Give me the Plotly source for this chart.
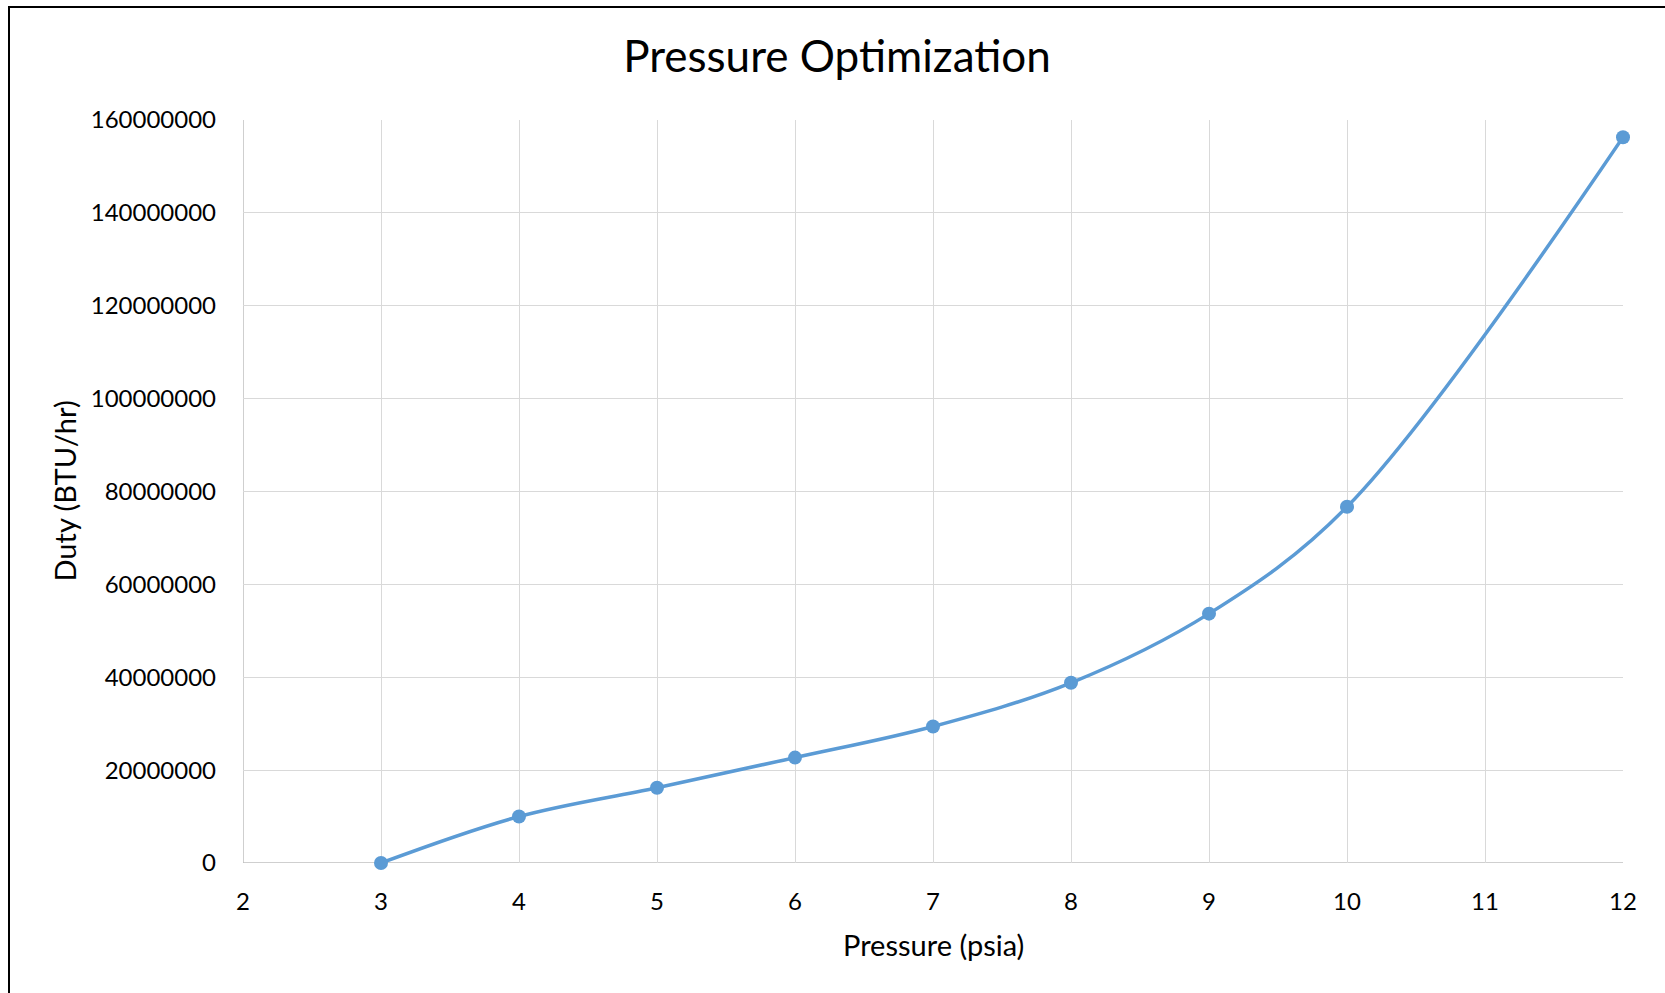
import plotly.graph_objects as go

# Evaporator pressure sweep: duty at each operating pressure
pressure_psia = [3, 4, 5, 6, 7, 8, 9, 10, 12]
duty_btu_hr = [0, 10.0e6, 16.2e6, 22.7e6, 29.4e6, 38.8e6, 53.7e6, 76.7e6, 156.3e6]

x_ticks = [2, 3, 4, 5, 6, 7, 8, 9, 10, 11, 12]
y_ticks = [0, 20000000, 40000000, 60000000, 80000000, 100000000, 120000000, 140000000, 160000000]

FONT = "Lato, Calibri, Carlito, sans-serif"
LINE_BLUE = "#5B9BD5"
GRID = "#D9D9D9"
AXIS = "#BFBFBF"

W, H = 1665, 993
L, R, T, B = 243, 42, 120, 130

fig = go.Figure()
fig.add_trace(go.Scatter(
    x=pressure_psia,
    y=duty_btu_hr,
    mode="lines+markers",
    line=dict(color=LINE_BLUE, width=3.5, shape="spline", smoothing=1.0),
    marker=dict(color=LINE_BLUE, size=14, symbol="circle"),
    showlegend=False,
    cliponaxis=False,
))

fig.update_layout(
    width=W,
    height=H,
    margin=dict(l=L, r=R, t=T, b=B, pad=0),
    paper_bgcolor="white",
    plot_bgcolor="white",
    font=dict(family=FONT, color="#000000"),
    title=dict(
        text="Pressure Optimization",
        font=dict(family=FONT, size=44, color="#000000"),
        xref="container", x=0.5027, xanchor="center",
        yref="container", y=1 - 57 / H, yanchor="middle",
    ),
    xaxis=dict(
        range=[2, 12],
        tickvals=x_ticks,
        ticktext=[str(v) for v in x_ticks],
        showgrid=True, gridcolor=GRID, gridwidth=1,
        showline=False, zeroline=False,
        ticks="", ticklabelstandoff=22,
        tickfont=dict(family=FONT, size=24, color="#000000"),
    ),
    yaxis=dict(
        range=[0, 160000000],
        tickvals=y_ticks,
        ticktext=[str(v) for v in y_ticks],
        showgrid=True, gridcolor=GRID, gridwidth=1,
        showline=False, zeroline=False,
        ticks="", ticklabelstandoff=26,
        tickfont=dict(family=FONT, size=24, color="#000000"),
    ),
)

plot_w = W - L - R
plot_h = H - T - B

# Axis lines along x=2 and y=0
fig.add_shape(type="line", xref="x", yref="y", x0=2, x1=12, y0=0, y1=0,
              line=dict(color=AXIS, width=1.5), layer="below")
fig.add_shape(type="line", xref="x", yref="y", x0=2, x1=2, y0=0, y1=160000000,
              line=dict(color=AXIS, width=1.5), layer="below")

# Chart frame (left and top edges; right and bottom run past the canvas)
fig.add_shape(type="rect", xref="paper", yref="paper",
              x0=(9 - L) / plot_w, x1=(W + 20 - L) / plot_w,
              y0=-(B + 20) / plot_h, y1=(H - B - 7) / plot_h,
              line=dict(color="#000000", width=2), fillcolor="rgba(0,0,0,0)")

# Axis titles
fig.add_annotation(text="Pressure (psia)", xref="paper", yref="paper",
                   x=0.5, y=-(944 - (H - B)) / plot_h, xanchor="center", yanchor="middle",
                   showarrow=False, font=dict(family=FONT, size=29, color="#000000"))
fig.add_annotation(text="Duty (BTU/hr)", xref="paper", yref="paper",
                   x=-(L - 64) / plot_w, y=0.5, xanchor="center", yanchor="middle",
                   textangle=-90, showarrow=False,
                   font=dict(family=FONT, size=29, color="#000000"))

fig.write_html("out.html")
